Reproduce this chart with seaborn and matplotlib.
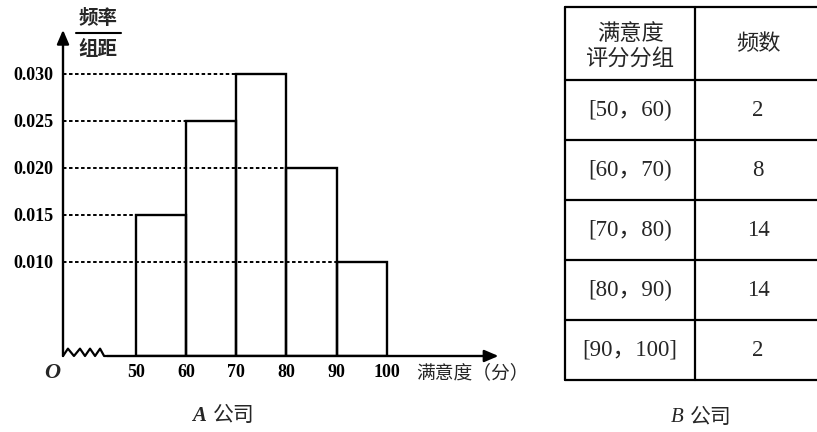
import numpy as np
import pandas as pd
import matplotlib.pyplot as plt
import seaborn as sns

# A company: histogram (frequency / class width)
bin_edges = [50, 60, 70, 80, 90, 100]
bin_mids = [55, 65, 75, 85, 95]
density = [0.015, 0.025, 0.030, 0.020, 0.010]
yticks = [0.010, 0.015, 0.020, 0.025, 0.030]
xticks = [50, 60, 70, 80, 90, 100]

# B company: frequency table
b_groups = ["[50，60)", "[60，70)", "[70，80)", "[80，90)", "[90，100]"]
b_counts = [2, 8, 14, 14, 2]
b_header = ["满意度\n评分分组", "频数"]

sns.set_theme(style="white")
plt.rcParams['font.family'] = ['Liberation Serif', 'Noto Sans CJK SC']
plt.rcParams['axes.unicode_minus'] = False

W, H = 817, 432
fig = plt.figure(figsize=(W / 100, H / 100), dpi=100)

# main axes: origin at the y axis / x axis crossing
x0, x1 = 35.52, 123.5
y0, y1 = 0.0, 0.0352
left_px, right_px, zero_px, top_px = 63, 505, 356, 25
ax = fig.add_axes([left_px / W, (H - zero_px) / H,
                   (right_px - left_px) / W, (zero_px - top_px) / H])
ax.set_xlim(x0, x1)
ax.set_ylim(y0, y1)

df = pd.DataFrame({"score": bin_mids, "dens": density})
sns.histplot(data=df, x="score", weights="dens", bins=bin_edges,
             fill=False, color="black", linewidth=1.7, ax=ax)

# dashed guides from the y axis to each bar top
for left_edge, h in zip(bin_edges[:-1], density):
    ax.plot([x0, left_edge], [h, h], color="black", lw=1.4,
            linestyle=(0, (1.8, 1.3)), clip_on=False)

for s in ax.spines.values():
    s.set_visible(False)
ax.patch.set_visible(False)
ax.set_xlabel("")
ax.set_ylabel("")
ax.set_yticks(yticks)
ax.set_yticklabels([f"{v:.3f}" for v in yticks], fontweight="bold")
ax.set_xticks(xticks)
ax.set_xticklabels([str(v) for v in xticks], fontweight="bold")
ax.tick_params(axis="both", length=0, labelsize=13, colors="black")
ax.tick_params(axis="y", pad=7)
ax.tick_params(axis="x", pad=6)

# axis arrows
arrow = dict(arrowstyle="-|>,head_length=0.7,head_width=0.3", color="black",
             lw=1.7, shrinkA=0, shrinkB=0)
ax.annotate("", xy=(x0, 0.03468), xytext=(x0, 0), arrowprops=arrow,
            annotation_clip=False)
ax.annotate("", xy=(122.2, 0), xytext=(44.4, 0), arrowprops=arrow,
            annotation_clip=False)

# axis break zigzag
zx = [35.52, 36.5, 37.7, 38.9, 39.9, 40.9, 41.9, 42.9, 43.7, 44.4]
zy = [0, 0.00078, 0, 0.00078, 0, 0.00078, 0, 0.00078, 0, 0]
ax.plot(zx, zy, color="black", lw=1.6, clip_on=False)

# overlay in pixel coordinates for labels and the table
ov = fig.add_axes([0, 0, 1, 1])
ov.set_xlim(0, W)
ov.set_ylim(H, 0)
ov.axis("off")
ov.patch.set_visible(False)

ov.text(98, 18, "频率", ha="center", va="center", fontsize=14, fontweight="bold")
ov.plot([76, 121], [33, 33], color="black", lw=1.5)
ov.text(98, 49, "组距", ha="center", va="center", fontsize=14, fontweight="bold")
ov.text(52, 373, "O", ha="center", va="center", fontsize=16,
        fontstyle="italic", fontweight="bold")
ov.text(416, 373, "满意度（分）", ha="left", va="center", fontsize=13.5)

ov.text(206, 416, "A", ha="right", va="center", fontsize=15,
        fontstyle="italic", fontweight="bold")
ov.text(213, 416, "公司", ha="left", va="center", fontsize=15)
ov.text(684, 418, "B", ha="right", va="center", fontsize=15, fontstyle="italic")
ov.text(690, 418, "公司", ha="left", va="center", fontsize=15)

# table B
row_lines = [7, 80, 140, 200, 260, 320, 380]
col_lines = [565, 695]
for yy in row_lines:
    ov.plot([565, 830], [yy, yy], color="black", lw=1.6, clip_on=False)
for xx in col_lines:
    ov.plot([xx, xx], [row_lines[0], row_lines[-1]], color="black", lw=1.6)

c1, c2 = 630, 758
ov.text(c1, 47, b_header[0], ha="center", va="center", fontsize=16,
        linespacing=1.25)
ov.text(c2, 45, b_header[1], ha="center", va="center", fontsize=16)
for i, (g, n) in enumerate(zip(b_groups, b_counts)):
    yc = (row_lines[i + 1] + row_lines[i + 2]) / 2
    ov.text(c1, yc, g, ha="center", va="center", fontsize=16.5)
    ov.text(c2, yc, str(n), ha="center", va="center", fontsize=16.5)

fig.savefig("out.png", dpi=100)
